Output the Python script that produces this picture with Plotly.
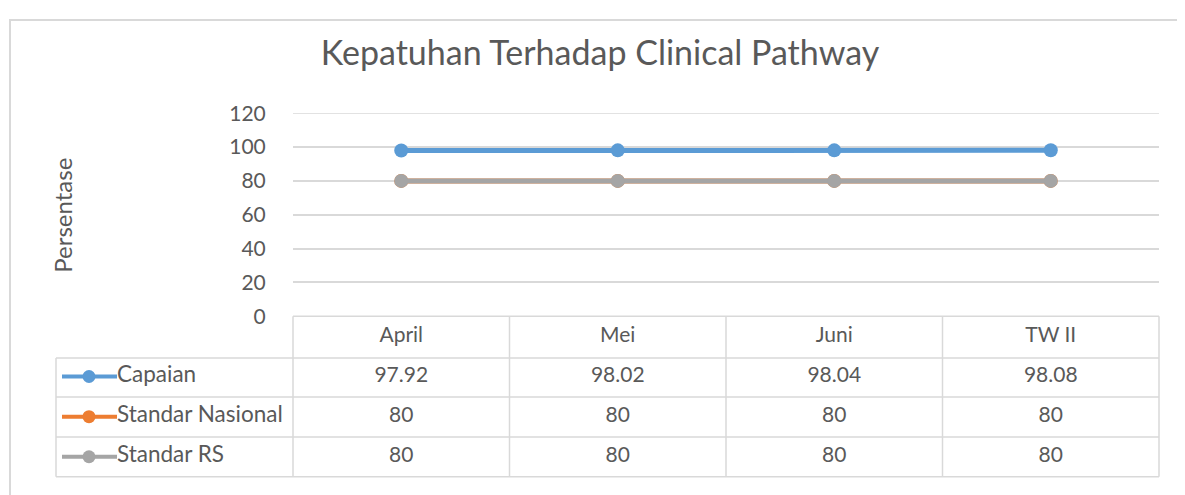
import plotly.graph_objects as go

# ---- data ----
categories = ["April", "Mei", "Juni", "TW II"]
series_names = ["Capaian", "Standar Nasional", "Standar RS"]
capaian = [97.92, 98.02, 98.04, 98.08]
standar_nasional = [80, 80, 80, 80]
standar_rs = [80, 80, 80, 80]
y_ticks = [0, 20, 40, 60, 80, 100, 120]
title_text = "Kepatuhan Terhadap Clinical Pathway"
y_title = "Persentase"

# ---- styles / layout ----
W, H = 1185, 495
OFF = 8  # page body margin
colors = ["#5B9BD5", "#ED7D31", "#A5A5A5"]
TXT = "#595959"
GRID = "#D9D9D9"
FONT = "Lato"
FS = 21

PX_L, PX_R = 293, 1159         # plot area horizontal extent (screen px)
PY_TOP, PY_ZERO = 104, 318     # y=120 and y=0 screen rows
TBL_L, TBL_B = 56, 487         # table left/bottom
row_bounds = [318, 362, 403, 445, 487]

def fx(px):
    return (px - OFF) / W

def fy(py):
    return 1 - (py - OFF) / H

n = len(categories)
col_w = (PX_R - PX_L) / n
x2_left = -0.5 - (PX_L - TBL_L) / col_w

def px_to_x2(px):
    return -0.5 + (px - PX_L) / col_w

series = [capaian, standar_nasional, standar_rs]

fig = go.Figure()

# main line chart
for name, vals, c in zip(series_names, series, colors):
    fig.add_trace(go.Scatter(
        x=categories, y=vals, mode="lines+markers", name=name,
        line=dict(color=c, width=5), marker=dict(color=c, size=14),
        xaxis="x", yaxis="y", showlegend=False, hoverinfo="x+y+name"))

# table header text
fig.add_trace(go.Scatter(
    x=list(range(n)), y=[0.5] * n, mode="text", text=categories,
    textfont=dict(family=FONT, size=FS, color=TXT),
    xaxis="x2", yaxis="y2", showlegend=False, hoverinfo="skip"))

# table rows
for i, (name, vals, c) in enumerate(zip(series_names, series, colors)):
    ry = i + 1.5
    fig.add_trace(go.Scatter(
        x=list(range(n)), y=[ry] * n, mode="text",
        text=[f"{v:g}" for v in vals],
        textfont=dict(family=FONT, size=FS, color=TXT),
        xaxis="x2", yaxis="y2", showlegend=False, hoverinfo="skip"))
    fig.add_trace(go.Scatter(
        x=[px_to_x2(62), px_to_x2(117)], y=[ry, ry], mode="lines",
        line=dict(color=c, width=4), xaxis="x2", yaxis="y2",
        showlegend=False, hoverinfo="skip"))
    fig.add_trace(go.Scatter(
        x=[px_to_x2(89)], y=[ry], mode="markers",
        marker=dict(color=c, size=13), xaxis="x2", yaxis="y2",
        showlegend=False, hoverinfo="skip"))
    fig.add_trace(go.Scatter(
        x=[px_to_x2(117)], y=[ry], mode="text", text=[name],
        textposition="middle right",
        textfont=dict(family=FONT, size=22.5, color=TXT),
        xaxis="x2", yaxis="y2", showlegend=False, hoverinfo="skip"))

shapes = []
line_style = dict(color=GRID, width=1.5)
shapes.append(dict(type="line", xref="paper", yref="paper",
                   x0=fx(PX_L), x1=fx(PX_R), y0=fy(row_bounds[0]), y1=fy(row_bounds[0]),
                   line=line_style))
for rb in row_bounds[1:]:
    shapes.append(dict(type="line", xref="paper", yref="paper",
                       x0=fx(TBL_L), x1=fx(PX_R), y0=fy(rb), y1=fy(rb), line=line_style))
shapes.append(dict(type="line", xref="paper", yref="paper",
                   x0=fx(TBL_L), x1=fx(TBL_L), y0=fy(row_bounds[1]), y1=fy(TBL_B),
                   line=line_style))
for k in range(n + 1):
    px = PX_L + k * col_w
    shapes.append(dict(type="line", xref="paper", yref="paper",
                       x0=fx(px), x1=fx(px), y0=fy(row_bounds[0]), y1=fy(TBL_B),
                       line=line_style))
# top gridline at 120 (drawn explicitly, edge grid lines may be dropped)
shapes.append(dict(type="line", xref="paper", yref="y",
                   x0=fx(PX_L), x1=fx(PX_R), y0=120, y1=120, line=line_style, layer="below"))
# outer chart border
shapes.append(dict(type="rect", xref="paper", yref="paper",
                   x0=fx(10), x1=1.05, y0=-0.05, y1=fy(6),
                   line=dict(color=GRID, width=2), layer="below"))

annotations = [dict(text=y_title, xref="paper", yref="paper", x=fx(63), y=fy(212),
                    xanchor="center", yanchor="middle", textangle=-90, showarrow=False,
                    font=dict(family=FONT, size=24, color=TXT))]

fig.update_layout(
    width=W, height=H,
    margin=dict(l=0, r=0, t=0, b=0),
    paper_bgcolor="white", plot_bgcolor="white",
    font=dict(family=FONT, color=TXT, size=FS),
    title=dict(text=title_text, x=fx(600), xanchor="center", y=fy(53), yanchor="middle",
               font=dict(family=FONT, size=34, color=TXT)),
    xaxis=dict(domain=[fx(PX_L), fx(PX_R)], type="category", range=[-0.5, n - 0.5],
               showticklabels=False, showgrid=False, zeroline=False, showline=False,
               ticks="", fixedrange=True),
    yaxis=dict(domain=[fy(PY_ZERO), fy(PY_TOP)], range=[0, 120], tickvals=y_ticks,
               showgrid=True, gridcolor=GRID, gridwidth=1.5, zeroline=False,
               showline=False, ticks="outside", ticklen=22, tickcolor="rgba(0,0,0,0)",
               tickfont=dict(family=FONT, size=FS, color=TXT),
               fixedrange=True),
    xaxis2=dict(domain=[fx(TBL_L), fx(PX_R)], range=[x2_left, n - 0.5],
                anchor="y2", visible=False, fixedrange=True),
    yaxis2=dict(domain=[fy(TBL_B), fy(row_bounds[0])], range=[4, 0],
                anchor="x2", visible=False, fixedrange=True),
    shapes=shapes,
    annotations=annotations,
)

fig.write_html("out.html")
